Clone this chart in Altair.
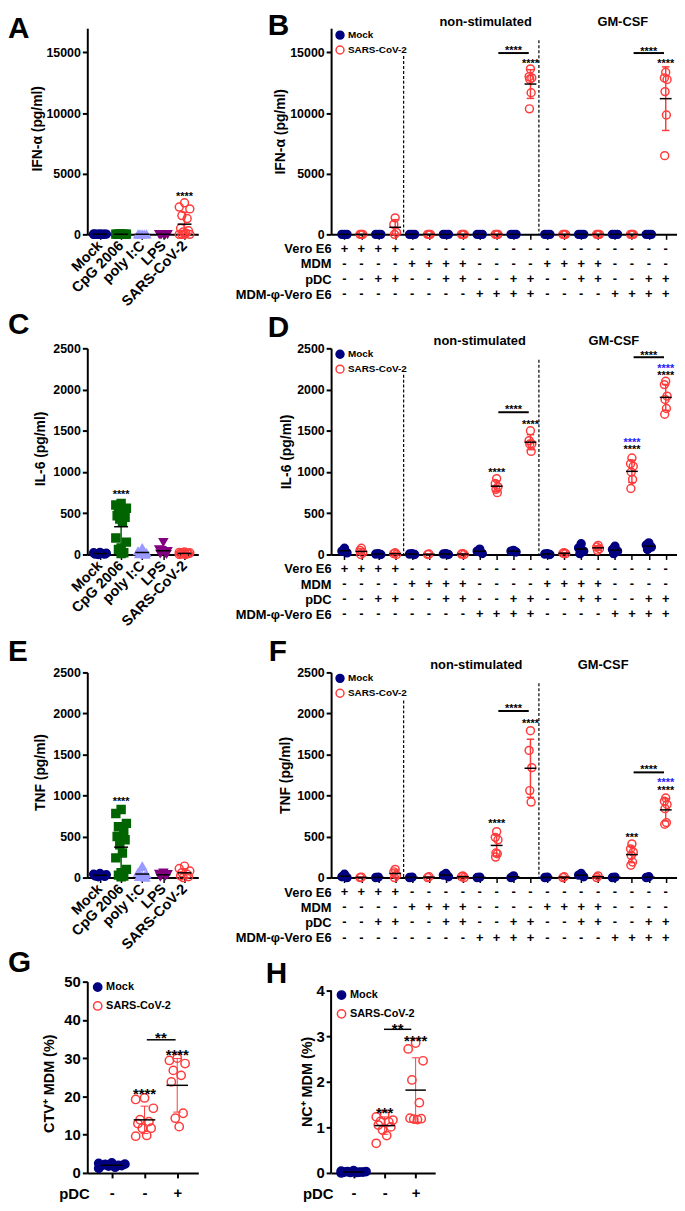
import altair as alt
import numpy as np
import pandas as pd

# ---------------- data ----------------
STIM = ["Mock", "CpG 2006", "poly I:C", "LPS", "SARS-CoV-2"]

A_MOCK = [30, 10, 0, 20, 0, 40, 10, 0, 20, 10]
A_CPG = [20, 0, 30, 10, 0, 20, 10, 0]
A_POLY = [10, 0, 20, 0, 10, 0]
A_LPS = [0, 20, 10, 0, 10, 0]
A_SARS = [2600, 2250, 2100, 1550, 1300, 500, 300, 200, 100, 0, 0, 0, 0]

C_MOCK = [20, 10, 5, 15, 0, 10, 25, 5]
C_CPG = [620, 600, 560, 520, 480, 470, 450, 430, 400, 200, 150, 80, 60, 20, 10]
C_POLY = [80, 40, 20, 10, 5, 0, 15]
C_LPS = [150, 60, 40, 30, 20, 10, 5]
C_SARS = [30, 20, 10, 0, 5, 15, 25, 0, 10, 20]

E_MOCK = [50, 40, 30, 20, 10, 35, 25, 15]
E_CPG = [830, 780, 660, 620, 550, 500, 460, 400, 300, 240, 100, 60, 30, 20, 10]
E_POLY = [140, 60, 40, 20, 10, 30, 0]
E_LPS = [60, 45, 30, 20, 10, 40]
E_SARS = [140, 110, 80, 60, 40, 20, 10, 0]

GROUPS = ["Mock", "SARS-CoV-2"]
COND_ROWS = ["Vero E6", "MDM", "pDC", "MDM-φ-Vero E6"]
COND_VERO = "++++----------------"
COND_MDM = "----++++----++++----"
COND_PDC = "--++--++--++--++--++"
COND_PHI = "--------++++----++++"

B_VALUES = [
    [0, 0, 0], [0, 0, 0], [0, 0, 0], [1360, 820, 160, 0],
    [0, 0, 0], [0, 0, 0], [0, 0, 0], [0, 0, 0],
    [0, 0, 0], [0, 0, 0], [0, 0, 0], [13640, 13000, 12900, 12800, 11680, 10350],
    [0, 0, 0], [0, 0, 0], [0, 0, 0], [0, 0, 0],
    [0, 0, 0], [0, 0, 0], [0, 0, 0], [13370, 12900, 12770, 11770, 9840, 6490],
]
D_VALUES = [
    [76, 20, 40], [76, 50, 20, 0], [5, 0, 10], [20, 10, 0],
    [5, 0, 10], [0, 5], [5, 0, 10], [10, 5, 0],
    [64, 40, 12], [920, 860, 820, 790, 750], [50, 40, 30], [1500, 1380, 1340, 1340, 1250],
    [5, 0, 10], [20, 10, 15], [130, 80, 40, 10], [110, 90, 70, 50],
    [100, 60, 10, 40], [1170, 1100, 1070, 1000, 910, 800], [140, 115, 90, 60], [2100, 2060, 1920, 1880, 1770, 1700],
]
F_VALUES = [
    [40, 10, 0], [5, 0], [5, 0], [100, 70, 30, 0],
    [5, 0], [10, 0], [50, 30, 10], [20, 10, 0],
    [5, 0], [560, 490, 460, 290, 250, 300], [20, 0], [1790, 1550, 1340, 1060, 920],
    [5, 0], [10, 0], [50, 30, 10], [20, 0],
    [5, 0], [410, 350, 310, 270, 190, 150], [10, 0], [970, 930, 890, 840, 670, 650],
]

BLUE = "#2020FF"
B_STARS = [(11, 15400, "****", "black"), (12, 14300, "****", "black"),
           (19, 15350, "****", "black"), (20, 14300, "****", "black")]
B_BRACKETS = [(10.1, 11.9, 14950), (18.1, 19.9, 14950)]
B_DASH = [(4.5, 14700), (12.5, 16000)]
B_HEAD = [(9.35, 17520, "non-stimulated"), (17.46, 17520, "GM-CSF")]

D_STARS = [(11, 1790, "****", "black"), (12, 1617, "****", "black"), (10, 1035, "****", "black"),
           (19, 2452, "****", "black"), (20, 2291, "****", BLUE), (20, 2207, "****", "black"),
           (18, 1388, "****", BLUE), (18, 1304, "****", "black")]
D_BRACKETS = [(10.1, 11.9, 1725), (18.1, 19.9, 2392)]
D_DASH = [(4.5, 2180), (12.5, 2360)]
D_HEAD = [(9.0, 2592, "non-stimulated"), (16.93, 2592, "GM-CSF")]

F_STARS = [(11, 2098, "****", "black"), (12, 1909, "****", "black"), (10, 699, "****", "black"),
           (19, 1354, "****", "black"), (20, 1190, "****", BLUE), (20, 1101, "****", "black"),
           (18, 527, "***", "black")]
F_BRACKETS = [(10.1, 11.9, 2030), (18.1, 19.9, 1282)]
F_DASH = [(4.5, 2158), (12.5, 2367)]
F_HEAD = [(8.8, 2590, "non-stimulated"), (16.3, 2590, "GM-CSF")]

PDC_SIGNS = ["-", "-", "+"]
G_MOCK = [2.0, 2.2, 1.8, 2.5, 1.5, 2.3, 2.0, 1.2, 2.6, 1.9]
G_SARS = [19.2, 19.6, 16.9, 13.9, 13.4, 12.9, 11.7, 11.7, 9.8, 9.6]
G_SARS_PDC = [30.0, 29.4, 28.6, 26.8, 25.5, 23.8, 15.6, 14.3, 12.1]
G_STARS = [(2, 21.9, "****"), (3, 32.0, "****"), (2.5, 36.4, "**")]
G_BRACKETS = [(2.07, 2.95, 34.8)]

H_MOCK = [0.02, 0.03, 0.01, 0.04, 0.02, 0.0, 0.03, 0.05, 0.01, 0.02]
H_SARS = [1.27, 1.23, 1.16, 1.13, 1.12, 1.05, 1.01, 0.94, 0.82, 0.65]
H_SARS_PDC = [2.85, 2.72, 2.46, 2.04, 1.54, 1.20, 1.19, 1.18, 1.17]
H_STARS = [(2, 1.41, "***"), (3, 3.0, "****"), (2.42, 3.26, "**")]
H_BRACKETS = [(1.98, 2.86, 3.15)]

# ---------------- style ----------------
FONT = "Liberation Sans"
NAVY = "#000080"
RED = "#FF3B3B"
GREEN = "#006400"
LAV = "#9999FF"
PURPLE = "#800080"

STIM_SHAPE = ["circle", "square", "triangle-up", "triangle-down", "circle"]
STIM_STROKE = [NAVY, GREEN, LAV, PURPLE, RED]
STIM_FILL = [NAVY, GREEN, LAV, PURPLE, "transparent"]
STIM_SPREAD = [0.3, 0.25, 0.2, 0.2, 0.25]

W1 = 112
W2 = 349
XDOM_L = [0.4, 0.4 + W1 / 21.33]
XDOM_R = [0.21, 0.21 + W2 / 17.06]
ROWSTEP = 15.3

PAT = [0, -1, 1, -0.5, 0.5, -0.75, 0.75, -0.25, 0.25, -1, 1, 0, -0.5, 0.5, 0]


def offsets(n, w):
    return [w * PAT[k % len(PAT)] for k in range(n)]


def msd(vals):
    m = float(np.mean(vals))
    s = float(np.std(vals, ddof=1)) if len(vals) > 1 else 0.0
    return m, s


def yaxis(vals, title, tx, ty, lsize=12.5, tsize=14, domain=True):
    return alt.Axis(values=vals, title=title, titleX=tx, titleY=ty, titleAngle=270,
                    titleAlign="center", titleBaseline="middle", titleFontSize=tsize,
                    titleFontWeight="bold", grid=False, domain=domain, domainWidth=2,
                    tickWidth=2, tickSize=5, labelFontSize=lsize, labelFontWeight="bold",
                    labelPadding=2, format="d")


def letter(t, dx, dy):
    return alt.TitleParams(text=t, anchor="start", frame="group", orient="top", offset=0,
                           dx=dx, dy=dy, baseline="alphabetic", fontSize=30,
                           fontWeight="bold", font=FONT, color="black")


def text_layer(df, X, Y, size, dy, color):
    return alt.Chart(df).mark_text(fontSize=size, fontWeight="bold", baseline="middle",
                                   dy=dy, color=color).encode(x=X("x"), y=Y("y"), text="t:N")


# ---------------- left panels (A, C, E) ----------------
def stim_panel(groups, ymax, yvals, ytitle, tx, star, let_dy, height):
    pts, st = [], []
    for i, vals in enumerate(groups):
        c = i + 1
        order = sorted(vals, reverse=True)
        for v, o in zip(order, offsets(len(order), STIM_SPREAD[i])):
            pts.append({"x": c + o, "y": v, "shape": STIM_SHAPE[i],
                        "stroke": STIM_STROKE[i], "fill": STIM_FILL[i]})
        m, s = msd(vals)
        st.append({"c": c, "m": m, "lo": max(m - s, 0), "hi": m + s, "col": STIM_STROKE[i],
                   "ml": c - 0.33, "mr": c + 0.33, "cl": c - 0.15, "cr": c + 0.15})
    pts, st = pd.DataFrame(pts), pd.DataFrame(st)
    xa = alt.Axis(values=[1, 2, 3, 4, 5], title=None,
                  labelExpr="['Mock','CpG 2006','poly I:C','LPS','SARS-CoV-2'][datum.value-1]",
                  labelAngle=315, labelAlign="right", labelBaseline="middle",
                  labelFontSize=14.5, labelFontWeight="bold", labelPadding=4,
                  labelOverlap=False, labelBound=False, labelFlush=False,
                  tickSize=5, tickWidth=1.5, domainWidth=2, grid=False)
    ya = yaxis(yvals, ytitle, tx, height / 2 - 3)
    X = lambda f: alt.X(f"{f}:Q", scale=alt.Scale(domain=XDOM_L, nice=False, zero=False), axis=xa)
    Y = lambda f: alt.Y(f"{f}:Q", scale=alt.Scale(domain=[0, ymax], nice=False, zero=False), axis=ya)
    layers = [
        alt.Chart(pts).mark_point(size=64, strokeWidth=1.5, opacity=1).encode(
            x=X("x"), y=Y("y"), shape=alt.Shape("shape:N", scale=None),
            stroke=alt.Stroke("stroke:N", scale=None), fill=alt.Fill("fill:N", scale=None)),
        alt.Chart(st).mark_rule(strokeWidth=1.5).encode(
            x=X("c"), y=Y("lo"), y2=alt.Y2("hi"), stroke=alt.Stroke("col:N", scale=None)),
        alt.Chart(st).mark_rule(strokeWidth=1.5).encode(
            x=X("cl"), x2=alt.X2("cr"), y=Y("hi"), stroke=alt.Stroke("col:N", scale=None)),
        alt.Chart(st).mark_rule(strokeWidth=1.5, color="black").encode(
            x=X("ml"), x2=alt.X2("mr"), y=Y("m")),
        text_layer(pd.DataFrame([{"x": star[0], "y": star[1], "t": "****"}]), X, Y, 11, 3.5, "black"),
    ]
    return alt.layer(*layers).properties(width=W1, height=height, title=letter(star[2], -80, let_dy))


# ---------------- co-culture panels (B, D, F) ----------------
def legend(lx, ly, lsize, rowpad, ssize):
    return alt.Legend(title=None, orient="none", legendX=lx, legendY=ly, symbolType="circle",
                      symbolSize=ssize, symbolStrokeWidth=1.5, labelFontSize=lsize,
                      labelFontWeight="bold", labelColor="black", rowPadding=rowpad,
                      padding=0, labelOffset=3)


def co_panel(values, ymax, yvals, ytitle, tx, stars, brackets, dashes, heads, let_text,
             let_dx, let_dy, height, leg_y):
    pts, st = [], []
    for i, vals in enumerate(values):
        c = i + 1
        g = GROUPS[i % 2]
        order = sorted(vals, reverse=True)
        w = 0.15 if g == "Mock" else 0.08
        for v, o in zip(order, offsets(len(order), w)):
            pts.append({"x": c + o, "y": v, "grp": g})
        m, s = msd(vals)
        st.append({"c": c, "grp": g, "m": m, "s": s, "lo": max(m - s, 0), "hi": m + s,
                   "ml": c - 0.35, "mr": c + 0.35, "cl": c - 0.22, "cr": c + 0.22})
    pts, st = pd.DataFrame(pts), pd.DataFrame(st)
    xa = alt.Axis(values=list(range(1, 21)), labels=False, title=None, tickSize=5,
                  tickWidth=1.5, domainWidth=2, grid=False)
    ya = yaxis(yvals, ytitle, tx, height / 2)
    X = lambda f: alt.X(f"{f}:Q", scale=alt.Scale(domain=XDOM_R, nice=False, zero=False), axis=xa)
    Y = lambda f: alt.Y(f"{f}:Q", scale=alt.Scale(domain=[0, ymax], nice=False, zero=False), axis=ya)
    dash = pd.DataFrame([{"x": d[0], "top": d[1], "bot": 0} for d in dashes])
    layers = [
        alt.Chart(dash).mark_rule(strokeDash=[3, 2], strokeWidth=1.2, color="black").encode(
            x=X("x"), y=Y("top"), y2=alt.Y2("bot")),
        alt.Chart(pts).mark_point(size=64, strokeWidth=1.5, opacity=1).encode(
            x=X("x"), y=Y("y"),
            stroke=alt.Stroke("grp:N", scale=alt.Scale(domain=GROUPS, range=[NAVY, RED]),
                              legend=legend(4, leg_y, 10, 1, 64)),
            fill=alt.Fill("grp:N", scale=alt.Scale(domain=GROUPS, range=[NAVY, "transparent"]),
                          legend=legend(4, leg_y, 10, 1, 64))),
    ]
    for g, col in zip(GROUPS, [NAVY, RED]):
        sub = st[(st.grp == g) & (st.s > 0)]
        if len(sub):
            layers.append(alt.Chart(sub).mark_rule(strokeWidth=1.5, color=col).encode(
                x=X("c"), y=Y("lo"), y2=alt.Y2("hi")))
            layers.append(alt.Chart(sub).mark_rule(strokeWidth=1.5, color=col).encode(
                x=X("cl"), x2=alt.X2("cr"), y=Y("hi")))
            layers.append(alt.Chart(sub).mark_rule(strokeWidth=1.5, color=col).encode(
                x=X("cl"), x2=alt.X2("cr"), y=Y("lo")))
    layers.append(alt.Chart(st).mark_rule(strokeWidth=1.5, color="black").encode(
        x=X("ml"), x2=alt.X2("mr"), y=Y("m")))
    br = pd.DataFrame([{"x1": b[0], "x2": b[1], "y": b[2]} for b in brackets])
    layers.append(alt.Chart(br).mark_rule(strokeWidth=2, color="black").encode(
        x=X("x1"), x2=alt.X2("x2"), y=Y("y")))
    for col in ["black", BLUE]:
        sub = [s for s in stars if s[3] == col]
        if sub:
            df = pd.DataFrame([{"x": s[0], "y": s[1], "t": s[2]} for s in sub])
            layers.append(text_layer(df, X, Y, 11, 3.5, col))
    hd = pd.DataFrame([{"x": h[0], "y": h[1], "t": h[2]} for h in heads])
    layers.append(alt.Chart(hd).mark_text(fontSize=13, fontWeight="bold", baseline="middle",
                                          color="black").encode(x=X("x"), y=Y("y"), text="t:N"))
    return alt.layer(*layers).properties(width=W2, height=height,
                                         title=letter(let_text, let_dx, let_dy))


def cond_table(height):
    rows = []
    for r, pat in enumerate([COND_VERO, COND_MDM, COND_PDC, COND_PHI]):
        for c, ch in enumerate(pat):
            rows.append({"x": c + 1, "r": r, "t": "+" if ch == "+" else "-"})
    df = pd.DataFrame(rows)
    ymax = height / ROWSTEP - 0.5
    expr = "['Vero E6','MDM','pDC','MDM-φ-Vero E6'][datum.value]"
    return alt.Chart(df).mark_text(fontSize=13, fontWeight="bold", baseline="middle",
                                   color="black").encode(
        x=alt.X("x:Q", scale=alt.Scale(domain=XDOM_R, nice=False, zero=False), axis=None),
        y=alt.Y("r:Q", scale=alt.Scale(domain=[-0.5, ymax], reverse=True, nice=False, zero=False),
                axis=alt.Axis(values=[0, 1, 2, 3], labelExpr=expr, domain=False, ticks=False,
                              grid=False, labelPadding=0, labelFontSize=13,
                              labelFontWeight="bold", title=None)),
        text="t:N",
    ).properties(width=W2, height=height)


# ---------------- G, H ----------------
def pct_panel(groups, ymax, yvals, ytitle, tx, ty, stars, brackets, width, xdom, let_text,
              let_dx, let_dy, height, leg_y, axis_top=None):
    pts, st = [], []
    spreads = [0.4, 0.27, 0.24]
    for i, vals in enumerate(groups):
        c = i + 1
        g = GROUPS[0] if i == 0 else GROUPS[1]
        order = sorted(vals, reverse=True)
        for v, o in zip(order, offsets(len(order), spreads[i])):
            pts.append({"x": c + o, "y": v, "grp": g})
        m, s = msd(vals)
        st.append({"c": c, "grp": g, "m": m, "s": s, "lo": max(m - s, 0), "hi": m + s,
                   "ml": c - 0.33, "mr": c + 0.33, "cl": c - 0.12, "cr": c + 0.12})
    pts, st = pd.DataFrame(pts), pd.DataFrame(st)
    xa = alt.Axis(values=[1, 2, 3], labelExpr="['-','-','+'][datum.value-1]", labelFontSize=15,
                  labelFontWeight="bold", labelPadding=8, labelBaseline="top", title="pDC",
                  titleX=2, titleY=21, titleAlign="right", titleBaseline="middle",
                  titleFontSize=15, titleFontWeight="bold", tickSize=5, tickWidth=2,
                  domainWidth=2, grid=False)
    ya = yaxis(yvals, ytitle, tx, ty, lsize=15, tsize=14.5, domain=axis_top is None)
    X = lambda f: alt.X(f"{f}:Q", scale=alt.Scale(domain=xdom, nice=False, zero=False), axis=xa)
    Y = lambda f: alt.Y(f"{f}:Q", scale=alt.Scale(domain=[0, ymax], nice=False, zero=False), axis=ya)
    layers = []
    if axis_top is not None:
        ax = pd.DataFrame([{"x": xdom[0], "y0": 0, "y1": axis_top}])
        layers.append(alt.Chart(ax).mark_rule(strokeWidth=2, color="black").encode(
            x=X("x"), y=Y("y0"), y2=alt.Y2("y1")))
    layers.append(alt.Chart(pts).mark_point(size=70, strokeWidth=1.5, opacity=1).encode(
        x=X("x"), y=Y("y"),
        stroke=alt.Stroke("grp:N", scale=alt.Scale(domain=GROUPS, range=[NAVY, RED]),
                          legend=legend(5, leg_y, 11, 4, 70)),
        fill=alt.Fill("grp:N", scale=alt.Scale(domain=GROUPS, range=[NAVY, "transparent"]),
                      legend=legend(5, leg_y, 11, 4, 70))))
    for g, col in zip(GROUPS, [NAVY, RED]):
        sub = st[(st.grp == g) & (st.s > 0)]
        if len(sub):
            layers.append(alt.Chart(sub).mark_rule(strokeWidth=1, color=col).encode(
                x=X("c"), y=Y("lo"), y2=alt.Y2("hi")))
            layers.append(alt.Chart(sub).mark_rule(strokeWidth=1, color=col).encode(
                x=X("cl"), x2=alt.X2("cr"), y=Y("hi")))
            layers.append(alt.Chart(sub).mark_rule(strokeWidth=1, color=col).encode(
                x=X("cl"), x2=alt.X2("cr"), y=Y("lo")))
    layers.append(alt.Chart(st).mark_rule(strokeWidth=1.5, color="black").encode(
        x=X("ml"), x2=alt.X2("mr"), y=Y("m")))
    br = pd.DataFrame([{"x1": b[0], "x2": b[1], "y": b[2]} for b in brackets])
    layers.append(alt.Chart(br).mark_rule(strokeWidth=1.5, color="black").encode(
        x=X("x1"), x2=alt.X2("x2"), y=Y("y")))
    sdf = pd.DataFrame([{"x": s[0], "y": s[1], "t": s[2]} for s in stars])
    layers.append(text_layer(sdf, X, Y, 15, 4.5, "black"))
    return alt.layer(*layers).properties(width=width, height=height,
                                         title=letter(let_text, let_dx, let_dy))


def blank():
    return alt.Chart(pd.DataFrame({"v": [0]})).mark_point(opacity=0).encode(
        x=alt.X("v:Q", axis=None), y=alt.Y("v:Q", axis=None)).properties(width=W1, height=1)


H1 = 208
H2 = 208
H3 = 207
HG = 193

A = stim_panel([A_MOCK, A_CPG, A_POLY, A_LPS, A_SARS], 17000, [0, 5000, 10000, 15000],
               "IFN-α (pg/ml)", -50, (5, 3400, "A"), 39.5, H1)
C = stim_panel([C_MOCK, C_CPG, C_POLY, C_LPS, C_SARS], 2500, [0, 500, 1000, 1500, 2000, 2500],
               "IL-6 (pg/ml)", -47, (2, 757, "C"), 22, H2)
E = stim_panel([E_MOCK, E_CPG, E_POLY, E_LPS, E_SARS], 2500, [0, 500, 1000, 1500, 2000, 2500],
               "TNF (pg/ml)", -47, (2, 962, "E"), 24, H3)

B = co_panel(B_VALUES, 17000, [0, 5000, 10000, 15000], "IFN-α (pg/ml)", -51, B_STARS,
             B_BRACKETS, B_DASH, B_HEAD, "B", -64, 49.5, H1, 2)
D = co_panel(D_VALUES, 2500, [0, 500, 1000, 1500, 2000, 2500], "IL-6 (pg/ml)", -45, D_STARS,
             D_BRACKETS, D_DASH, D_HEAD, "D", -64, 32, H2, 1)
F = co_panel(F_VALUES, 2500, [0, 500, 1000, 1500, 2000, 2500], "TNF (pg/ml)", -46, F_STARS,
             F_BRACKETS, F_DASH, F_HEAD, "F", -63, 31.5, H3, 1)

TB = cond_table(101)
TD = cond_table(105)
TF = cond_table(91)

G = pct_panel([G_MOCK, G_SARS, G_SARS_PDC], 50, [0, 10, 20, 30, 40, 50], "CTV⁺ MDM (%)",
              -38, HG / 2 + 6, G_STARS, G_BRACKETS, W1, [0.25, 0.25 + W1 / 33.0], "G",
              -80, 27.5, HG, 0)
HH = pct_panel([H_MOCK, H_SARS, H_SARS_PDC], 4 * HG / 184.0, [0, 1, 2, 3, 4], "NC⁺ MDM (%)",
               -24, 100.7, H_STARS, H_BRACKETS, 105, [0.275, 0.275 + 105 / 31.3], "H",
               -66, 31, HG, 8, axis_top=4)

chart = alt.concat(
    A, B, blank(), TB, C, D, blank(), TD, E, F, blank(), TF, G, HH,
    columns=2, spacing=alt.RowColnumber(row=7, column=134), bounds="flush", align="each",
).resolve_scale(stroke="independent", fill="independent").resolve_legend(
    stroke="independent", fill="independent"
).properties(padding={"top": -2, "left": 0, "right": 0, "bottom": 0}).configure_view(
    stroke=None
).configure_axis(
    labelFont=FONT, titleFont=FONT, labelColor="black", titleColor="black",
    domainColor="black", tickColor="black", grid=False,
).configure_text(font=FONT).configure_title(font=FONT).configure_legend(labelFont=FONT)

chart.save("out.html", embed_options={"renderer": "svg", "actions": False})
